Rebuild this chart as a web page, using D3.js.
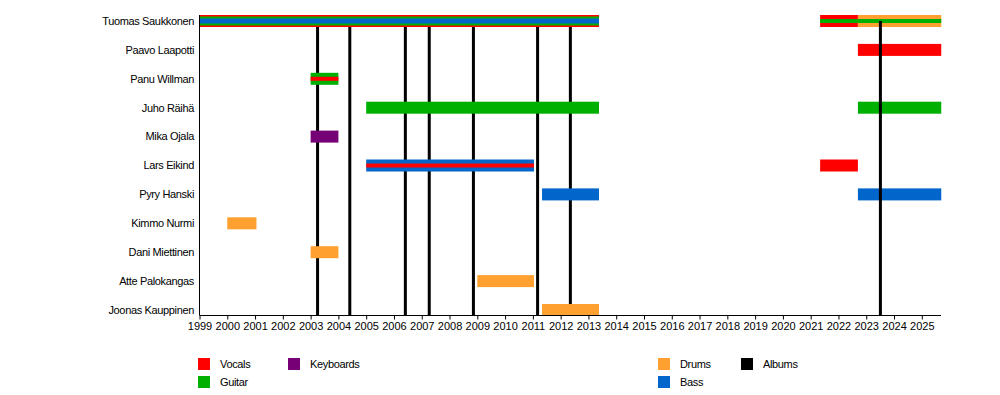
<!DOCTYPE html>
<html>
<head>
<meta charset="utf-8">
<script src="https://cdn.jsdelivr.net/npm/d3@7"></script>
<style>
body { margin: 0; background: #fff; }
text { font-family: "Liberation Sans", Arial, sans-serif; font-size: 11px; fill: #000; }
.name { letter-spacing: -0.35px; }
</style>
</head>
<body>
<div id="chart"></div>
<script>
var members = ["Tuomas Saukkonen", "Paavo Laapotti", "Panu Willman", "Juho Räihä", "Mika Ojala",
  "Lars Eikind", "Pyry Hanski", "Kimmo Nurmi", "Dani Miettinen", "Atte Palokangas", "Joonas Kauppinen"];

// role keys, outermost first
var spans = [
  { member: "Tuomas Saukkonen", start: 1999, end: 2013.38, roles: ["vocals", "guitar", "bass"] },
  { member: "Tuomas Saukkonen", start: 2021.34, end: 2022.7, roles: ["vocals", "guitar"] },
  { member: "Tuomas Saukkonen", start: 2022.7, end: 2025.7, roles: ["drums", "guitar"] },
  { member: "Paavo Laapotti", start: 2022.7, end: 2025.7, roles: ["vocals"] },
  { member: "Panu Willman", start: 2003.0, end: 2004.0, roles: ["guitar", "vocals"] },
  { member: "Juho Räihä", start: 2005.0, end: 2013.38, roles: ["guitar"] },
  { member: "Juho Räihä", start: 2022.7, end: 2025.7, roles: ["guitar"] },
  { member: "Mika Ojala", start: 2003.0, end: 2004.0, roles: ["keyboards"] },
  { member: "Lars Eikind", start: 2005.0, end: 2011.04, roles: ["bass", "vocals"] },
  { member: "Lars Eikind", start: 2021.34, end: 2022.7, roles: ["vocals"] },
  { member: "Pyry Hanski", start: 2011.33, end: 2013.38, roles: ["bass"] },
  { member: "Pyry Hanski", start: 2022.7, end: 2025.7, roles: ["bass"] },
  { member: "Kimmo Nurmi", start: 2000.0, end: 2001.05, roles: ["drums"] },
  { member: "Dani Miettinen", start: 2003.0, end: 2004.0, roles: ["drums"] },
  { member: "Atte Palokangas", start: 2009.0, end: 2011.04, roles: ["drums"] },
  { member: "Joonas Kauppinen", start: 2011.33, end: 2013.38, roles: ["drums"] }
];

var albums = [2003.25, 2004.41, 2006.41, 2007.27, 2008.86, 2011.17, 2012.35, 2023.51];

var years = d3.range(1999, 2026);

var roleKeys = ["vocals", "guitar", "keyboards", "drums", "bass", "albums"];
var roleNames = ["Vocals", "Guitar", "Keyboards", "Drums", "Bass", "Albums"];
var roleColors = ["#ff0000", "#00b000", "#760076", "#ffa030", "#0066cc", "#000000"];

var color = d3.scaleOrdinal().domain(roleKeys).range(roleColors);

var W = 1000, H = 395;
var svg = d3.select("#chart").append("svg").attr("width", W).attr("height", H);

var x = d3.scaleLinear().domain([1999, 2025]).range([199.5, 921.8]);
var y = d3.scalePoint().domain(members).range([21, 310]);
var axisY = 315.5, barH = 12;
var stripeH = [12, 9, 5];

// album lines under bars
var lines = svg.append("g");
var bars = svg.append("g");
var linesTop = svg.append("g");

function drawAlbums(g, data) {
  g.selectAll("line").data(data).enter().append("line")
    .attr("x1", function (d) { return x(d); })
    .attr("x2", function (d) { return x(d); })
    .attr("y1", y(members[0]))
    .attr("y2", axisY)
    .attr("stroke", color("albums"))
    .attr("stroke-width", 3);
}
drawAlbums(lines, albums.filter(function (d) { return d < 2015; }));
drawAlbums(linesTop, albums.filter(function (d) { return d >= 2015; }));

spans.forEach(function (s) {
  s.roles.forEach(function (r, i) {
    var h = s.roles.length === 2 && i === 1 ? 4 : stripeH[i];
    bars.append("rect")
      .attr("x", x(s.start))
      .attr("width", x(s.end) - x(s.start))
      .attr("y", y(s.member) - h / 2)
      .attr("height", h)
      .attr("fill", color(r));
  });
});

// axes
var xAxis = d3.axisBottom(x).tickValues(years).tickFormat(d3.format("d")).tickSize(4).tickPadding(3);
var gx = svg.append("g").attr("transform", "translate(0," + axisY + ")").call(xAxis);
gx.select(".domain").attr("d", "M" + x(1999) + ",0H941").attr("stroke", "#000");
gx.selectAll("text").style("font-size", "11px").attr("fill", "#000");

svg.append("line").attr("x1", x(1999)).attr("x2", x(1999))
  .attr("y1", y(members[0]) - barH / 2).attr("y2", axisY).attr("stroke", "#000");

svg.append("g").selectAll("text").data(members).enter().append("text")
  .attr("class", "name")
  .attr("x", 194)
  .attr("y", function (d) { return y(d); })
  .attr("dy", "0.35em")
  .attr("text-anchor", "end")
  .text(function (d) { return d; });

// legend
var legendPos = [[198, 358], [198, 376], [288, 358], [658, 358], [658, 376], [741, 358]];
var lg = svg.append("g").selectAll("g").data(roleKeys).enter().append("g")
  .attr("transform", function (d, i) { return "translate(" + legendPos[i][0] + "," + legendPos[i][1] + ")"; });
lg.append("rect").attr("width", 12).attr("height", 12).attr("fill", function (d) { return color(d); });
lg.append("text").attr("class", "name").attr("x", 22).attr("y", 6).attr("dy", "0.35em")
  .text(function (d, i) { return roleNames[i]; });
</script>
</body>
</html>
